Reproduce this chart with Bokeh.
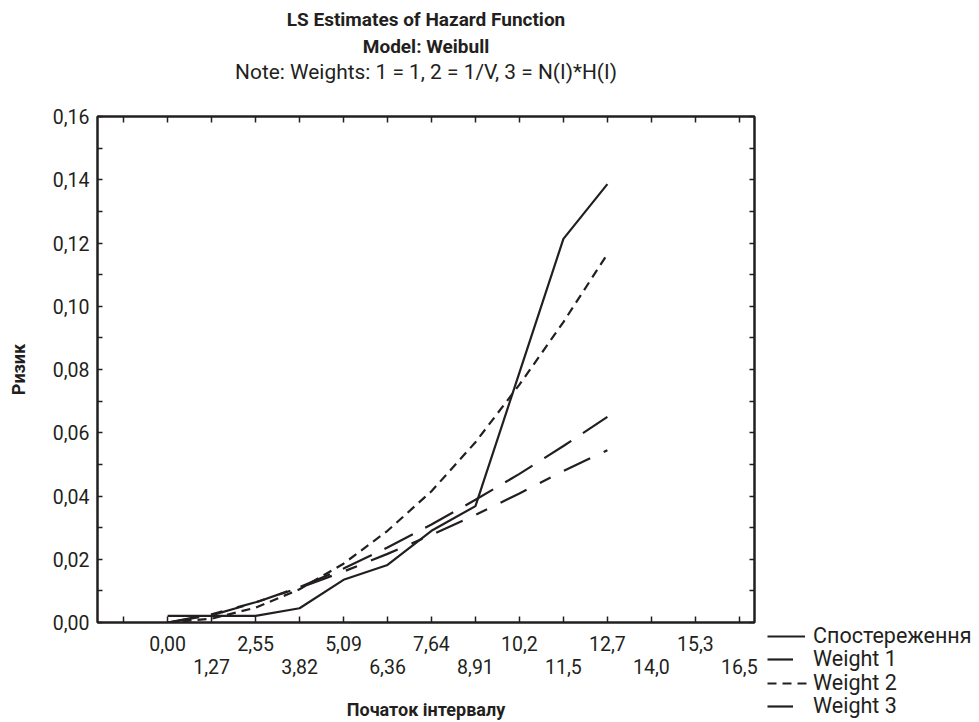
from bokeh.plotting import figure
from bokeh.layouts import row
from bokeh.models import Range1d, FixedTicker, LinearAxis, Legend, LegendItem, Title
from bokeh.embed import file_html
from bokeh.resources import INLINE

# ---- data ----
interval_start = [0.0, 1.2731, 2.5462, 3.8193, 5.0924, 6.3655, 7.6386, 8.9117, 10.1848, 11.4579, 12.7310]
observed = [0.0021, 0.0021, 0.0021, 0.0045, 0.0135, 0.0182, 0.0290, 0.0368, 0.0790, 0.1213, 0.1386]
weight1 = [0.0, 0.0023, 0.0063, 0.0112, 0.0171, 0.0237, 0.0310, 0.0388, 0.0470, 0.0558, 0.0650]
weight2 = [0.0, 0.0012, 0.0047, 0.0105, 0.0186, 0.0290, 0.0415, 0.0570, 0.0752, 0.0950, 0.1165]
weight3 = [0.0, 0.0026, 0.0064, 0.0110, 0.0161, 0.0217, 0.0277, 0.0340, 0.0408, 0.0479, 0.0545]

series_names = ["Спостереження", "Weight 1", "Weight 2", "Weight 3"]

x_tick_values = [-1.2731, 0.0, 1.2731, 2.5462, 3.8193, 5.0924, 6.3655, 7.6386,
                 8.9117, 10.1848, 11.4579, 12.7310, 14.0041, 15.2772, 16.5503]
x_tick_labels = ["", "0,00", "1,27", "2,55", "3,82", "5,09", "6,36", "7,64",
                 "8,91", "10,2", "11,5", "12,7", "14,0", "15,3", "16,5"]
y_tick_values = [0.0, 0.02, 0.04, 0.06, 0.08, 0.10, 0.12, 0.14, 0.16]
y_tick_labels = ["0,00", "0,02", "0,04", "0,06", "0,08", "0,10", "0,12", "0,14", "0,16"]
y_minor_values = [0.01, 0.03, 0.05, 0.07, 0.09, 0.11, 0.13, 0.15]

title_main = "LS Estimates of Hazard Function"
title_model = "Model: Weibull"
title_note = "Note: Weights: 1 = 1, 2 = 1/V, 3 = N(I)*H(I)"
x_title = "Початок інтервалу"
y_title = "Ризик"

FONT = "Roboto"
INK = "#231f20"
H = 722
LW = 2.2

p = figure(width=763, height=H, x_range=Range1d(-2.03, 16.99), y_range=Range1d(0, 0.16),
           output_backend="svg", toolbar_location=None, title=None,
           x_axis_location=None, y_axis_location=None,
           min_border_left=97, min_border_right=9, min_border_top=116, min_border_bottom=99)
p.grid.visible = False
p.outline_line_color = INK
p.outline_line_width = 2
p.border_fill_color = "white"

row1_labels = {v: (lab if i % 2 == 1 else "") for i, (v, lab) in enumerate(zip(x_tick_values, x_tick_labels))}
row2_labels = {v: (lab if i % 2 == 0 else "") for i, (v, lab) in enumerate(zip(x_tick_values, x_tick_labels))}

# bottom axis, first row of labels (with ticks)
xa1 = LinearAxis(ticker=FixedTicker(ticks=x_tick_values))
xa1.major_label_overrides = row1_labels
xa1.major_tick_in = 6
xa1.major_tick_out = 0
xa1.minor_tick_in = 0
xa1.minor_tick_out = 0
xa1.axis_line_color = INK
xa1.axis_line_width = 2
xa1.major_tick_line_color = INK
xa1.major_tick_line_width = 1.5
xa1.major_label_standoff = 13
xa1.major_label_text_font = FONT
xa1.major_label_text_font_size = "19.5px"
xa1.major_label_text_color = INK
p.add_layout(xa1, "below")

# bottom axis, second (staggered) row of labels + axis title
xa2 = LinearAxis(ticker=FixedTicker(ticks=x_tick_values))
xa2.major_label_overrides = row2_labels
xa2.axis_line_color = None
xa2.major_tick_line_color = None
xa2.minor_tick_line_color = None
xa2.major_tick_in = 0
xa2.major_tick_out = 0
xa2.major_label_standoff = 5
xa2.major_label_text_font = FONT
xa2.major_label_text_font_size = "19.5px"
xa2.major_label_text_color = INK
xa2.axis_label = x_title
xa2.axis_label_text_font = FONT
xa2.axis_label_text_font_style = "bold"
xa2.axis_label_text_font_size = "18px"
xa2.axis_label_text_color = INK
xa2.axis_label_standoff = 22
p.add_layout(xa2, "below")

# left axis
ya = LinearAxis(ticker=FixedTicker(ticks=y_tick_values, minor_ticks=y_minor_values))
ya.major_label_overrides = dict(zip(y_tick_values, y_tick_labels))
ya.major_tick_in = 5
ya.major_tick_out = 0
ya.minor_tick_in = 5
ya.minor_tick_out = 0
ya.axis_line_color = INK
ya.axis_line_width = 2
ya.major_tick_line_color = INK
ya.minor_tick_line_color = INK
ya.major_tick_line_width = 1.5
ya.minor_tick_line_width = 1.5
ya.major_label_standoff = 8
ya.major_label_text_font = FONT
ya.major_label_text_font_size = "19.5px"
ya.major_label_text_color = INK
ya.axis_label = y_title
ya.axis_label_text_font = FONT
ya.axis_label_text_font_style = "bold"
ya.axis_label_text_font_size = "18px"
ya.axis_label_text_color = INK
ya.axis_label_standoff = 21
p.add_layout(ya, "left")

# mirrored right / top axes (ticks only)
ra = LinearAxis(ticker=FixedTicker(ticks=y_tick_values, minor_ticks=y_minor_values))
ra.major_tick_in = 5
ra.major_tick_out = 0
ra.minor_tick_in = 5
ra.minor_tick_out = 0
ra.axis_line_color = INK
ra.axis_line_width = 2
ra.major_tick_line_color = INK
ra.minor_tick_line_color = INK
ra.major_tick_line_width = 1.5
ra.minor_tick_line_width = 1.5
ra.major_label_text_font_size = "1px"
ra.major_label_text_color = None
ra.major_label_standoff = 0
p.add_layout(ra, "right")

ta = LinearAxis(ticker=FixedTicker(ticks=x_tick_values))
ta.major_tick_in = 6
ta.major_tick_out = 0
ta.minor_tick_in = 0
ta.minor_tick_out = 0
ta.axis_line_color = INK
ta.axis_line_width = 2
ta.major_tick_line_color = INK
ta.major_tick_line_width = 1.5
ta.major_label_text_font_size = "1px"
ta.major_label_text_color = None
ta.major_label_standoff = 0
p.add_layout(ta, "above")

# titles (first added = closest to the plot); a blank spacer keeps the gap above the frame
p.add_layout(Title(text=" ", align="center", text_font=FONT, text_font_size="10px",
                   text_color="white", standoff=20), "above")
p.add_layout(Title(text=title_note, align="center", text_font=FONT, text_font_style="normal",
                   text_font_size="20.9px", text_color=INK, standoff=0), "above")
p.add_layout(Title(text=title_model, align="center", text_font=FONT, text_font_style="bold",
                   text_font_size="19px", text_color=INK, standoff=0), "above")
p.add_layout(Title(text=title_main, align="center", text_font=FONT, text_font_style="bold",
                   text_font_size="19px", text_color=INK, standoff=4), "above")

styles = [dict(line_dash="solid"), dict(line_dash="32 14"), dict(line_dash="9 6"), dict(line_dash="29 15 12 15")]
series = [observed, weight1, weight2, weight3]
for vals, st in zip(series, styles):
    p.line(interval_start, vals, line_color=INK, line_width=LW, **st)

# legend panel to the right of the plot (its own renderers sit outside its visible range)
p2 = figure(width=216, height=H, x_range=Range1d(100, 101), y_range=Range1d(100, 101),
            output_backend="svg", toolbar_location=None, title=None,
            x_axis_location=None, y_axis_location=None, min_border=0)
try:
    p2.frame_align = False
except Exception:
    pass
p2.grid.visible = False
p2.outline_line_color = None
p2.border_fill_color = "white"
p2.background_fill_color = "white"

legend_glyph_w = [38, 26, 40, 26]
legend_standoff = [8, 20, 6, 20]
legend_bottom = [74, 51, 27, 4]
for name, vals, st, gw, so, yb in zip(series_names, series, styles, legend_glyph_w, legend_standoff, legend_bottom):
    r = p2.line(interval_start, vals, line_color=INK, line_width=LW, **st)
    lg = Legend(items=[LegendItem(label=name, renderers=[r])], location=(4, yb))
    lg.border_line_color = None
    lg.background_fill_alpha = 0
    lg.padding = 0
    lg.margin = 0
    lg.glyph_width = gw
    lg.glyph_height = 20
    lg.label_height = 20
    lg.label_standoff = so
    lg.label_text_font = FONT
    lg.label_text_font_size = "21.5px"
    lg.label_text_color = INK
    p2.add_layout(lg)

layout = row(p, p2)
open("out.html", "w").write(file_html(layout, INLINE))
